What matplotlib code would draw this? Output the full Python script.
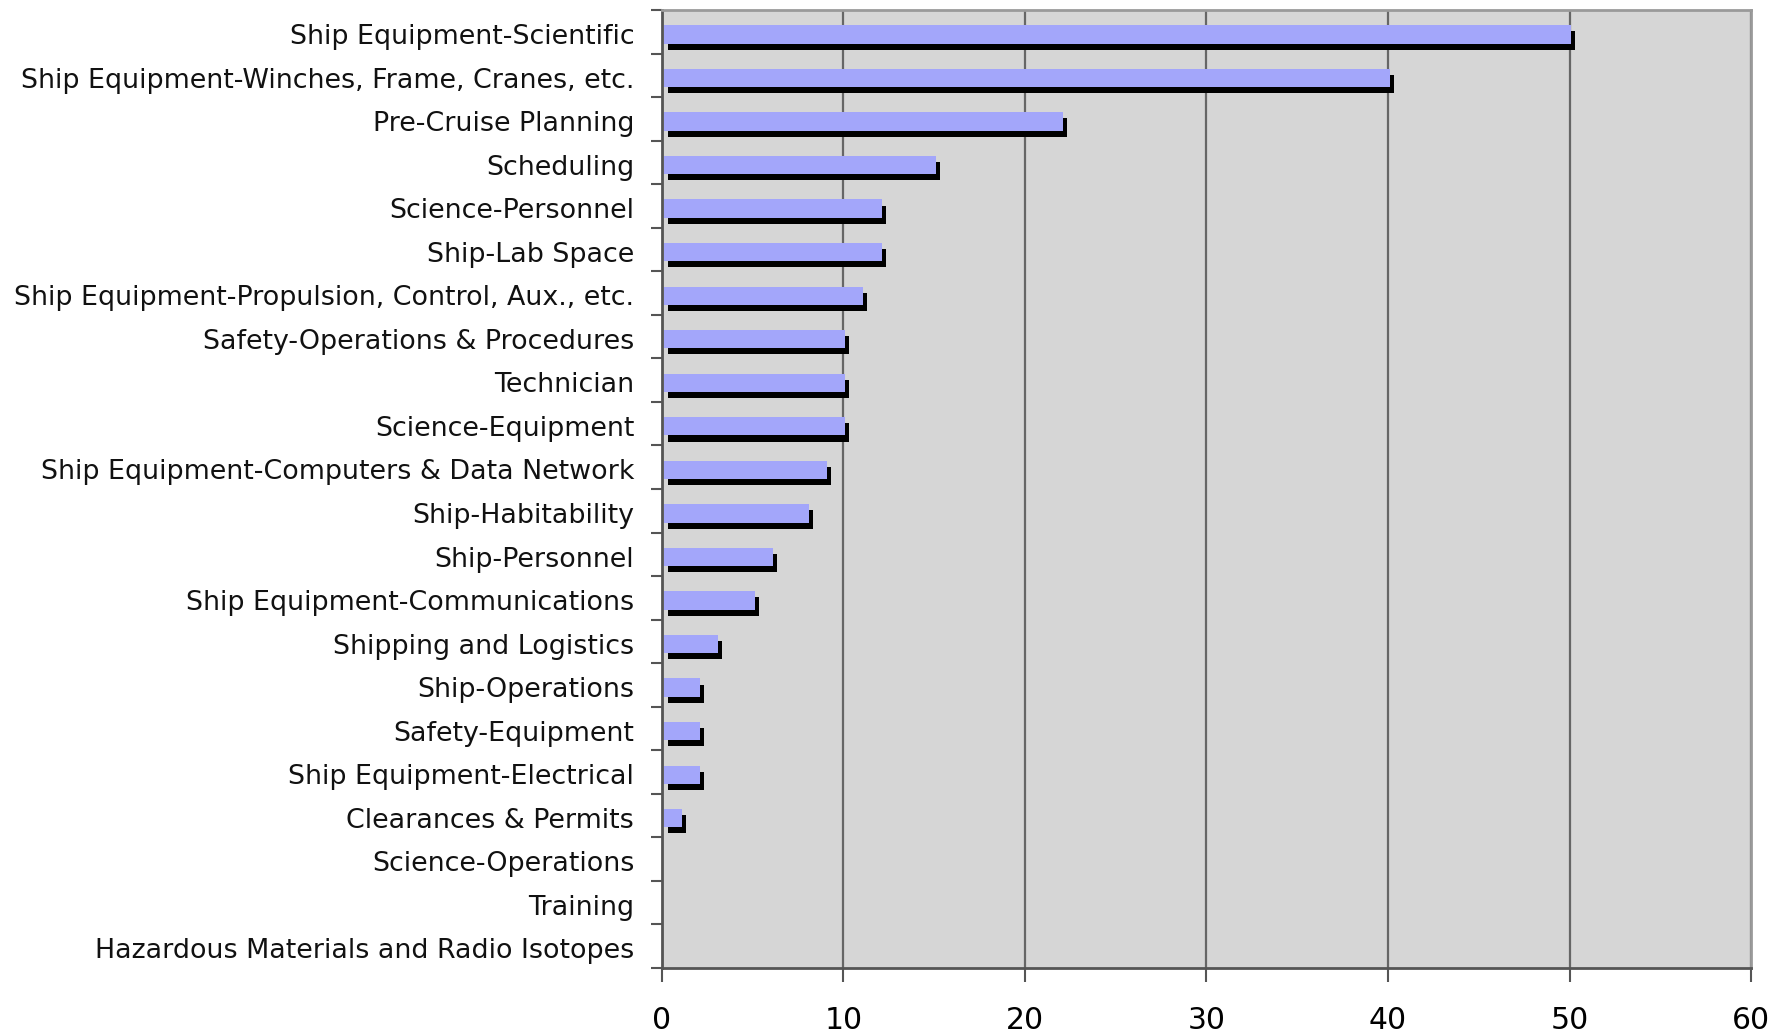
import numpy as np
import matplotlib.pyplot as plt
from matplotlib.ticker import FixedLocator

categories = [
    'Ship Equipment-Scientific',
    'Ship Equipment-Winches, Frame, Cranes, etc.',
    'Pre-Cruise Planning',
    'Scheduling',
    'Science-Personnel',
    'Ship-Lab Space',
    'Ship Equipment-Propulsion, Control, Aux., etc.',
    'Safety-Operations & Procedures',
    'Technician',
    'Science-Equipment',
    'Ship Equipment-Computers & Data Network',
    'Ship-Habitability',
    'Ship-Personnel',
    'Ship Equipment-Communications',
    'Shipping and Logistics',
    'Ship-Operations',
    'Safety-Equipment',
    'Ship Equipment-Electrical',
    'Clearances & Permits',
    'Science-Operations',
    'Training',
    'Hazardous Materials and Radio Isotopes',
]
counts = [50, 40, 22, 15, 12, 12, 11, 10, 10, 10, 9, 8, 6, 5, 3, 2, 2, 2, 1, 0, 0, 0]
x_ticks = [0, 10, 20, 30, 40, 50, 60]

fig = plt.figure(figsize=(17.77, 10.36), dpi=100)
ax = fig.add_axes([0.3725, 0.0656, 0.6129, 0.9247])
ax.set_facecolor('#d6d6d6')

pos = np.arange(len(categories))
bar_h = 0.42
# black drop shadow behind each bar, then the blue bar on top
ax.barh(pos + 0.2, counts, height=bar_h, left=0.32, color='black', zorder=2)
ax.barh(pos + 0.06, counts, height=bar_h, left=0.1, color='#a3a6fa', zorder=3)

ax.set_xlim(0, 60)
ax.set_ylim(len(categories) - 0.5, -0.5)
ax.set_xticks(x_ticks)
ax.set_xticklabels([str(t) for t in x_ticks], fontsize=21.5)
ax.set_yticks(pos + 0.05)
ax.set_yticklabels(categories, fontsize=19.4, color='#111111')
ax.yaxis.set_minor_locator(FixedLocator(np.arange(-0.5, len(categories), 1)))
ax.tick_params(axis='y', which='major', length=0, pad=20)
ax.tick_params(axis='y', which='minor', length=8, width=1.5, color='#555555', direction='out')
ax.tick_params(axis='x', length=10, width=1.5, color='#555555', pad=17)

ax.grid(axis='x', color='#666666', linewidth=1.6, zorder=1)
ax.set_axisbelow(True)
for side in ['left', 'bottom']:
    ax.spines[side].set_color('#555555')
    ax.spines[side].set_linewidth(2)
for side in ['top', 'right']:
    ax.spines[side].set_color('#9a9a9a')
    ax.spines[side].set_linewidth(2)

fig.savefig('out.png', dpi=100)
